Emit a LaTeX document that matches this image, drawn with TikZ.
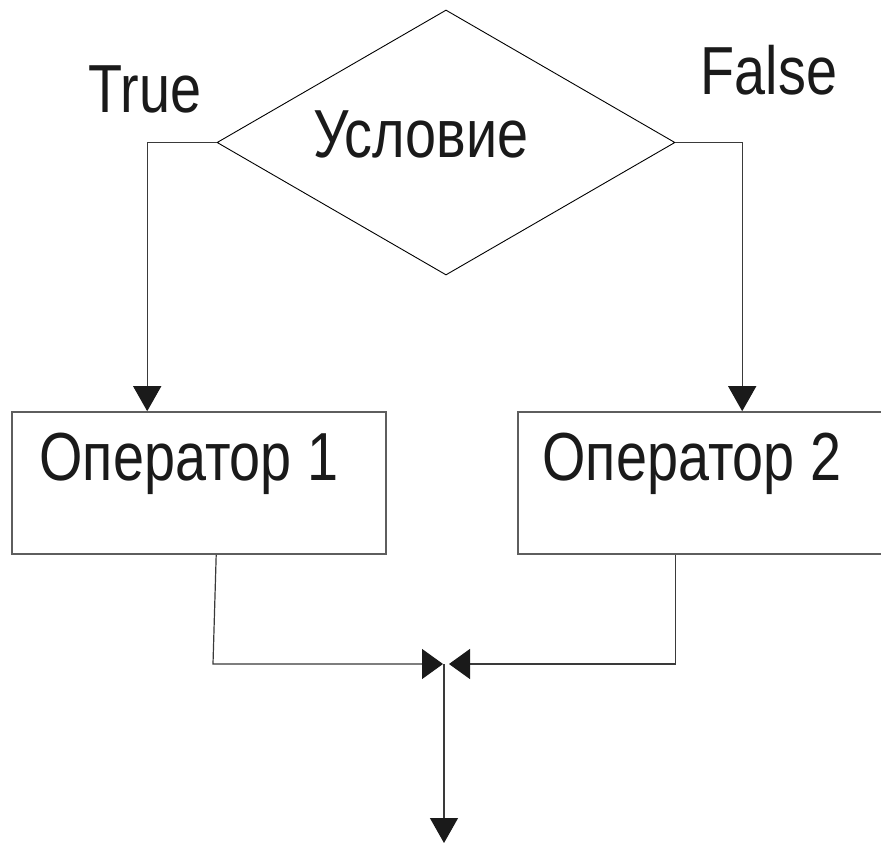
\documentclass[tikz,border=0pt]{standalone}
\usepackage{fontspec}
\newfontfamily\lab[FakeStretch=0.82]{Liberation Sans}
\usetikzlibrary{shapes.geometric,arrows.meta,calc}
\definecolor{ln}{HTML}{3A3A3A}
\definecolor{bx}{HTML}{5E5E5E}
\definecolor{tx}{HTML}{1A1A1A}
\tikzset{
  txt/.style={font=\lab\fontsize{68}{70}\selectfont, text=tx, inner sep=0pt, anchor=base},
  opbox/.style={draw=bx, line width=1.6pt, rectangle, minimum height=142pt, inner sep=0pt},
  conn/.style={draw=ln, line width=1.2pt},
  arr/.style={conn, -{Triangle[length=25pt,width=28pt,color=tx]}},
  marr/.style={conn, -{Triangle[length=21pt,width=30pt,color=tx]}},
}
\begin{document}
\begin{tikzpicture}[x=1pt,y=-1pt]
\path[use as bounding box, clip] (0,0) rectangle (881,845);
\fill[white] (0,0) rectangle (881,845);
% decision
\node[draw=black, line width=0.9pt, diamond, minimum width=458pt, minimum height=265pt, inner sep=0pt] (cond) at (446,142.5) {};
\node[txt] (condt) at (421,158) {Условие};
\node[txt] (tl) at (145,113) {True};
\node[txt] (fl) at (769,95) {False};
% operators
\node[opbox, minimum width=374pt] (b1) at (199,483) {};
\node[opbox, minimum width=382pt] (b2) at (709,483) {};
\node[txt] (b1t) at (189,480) {Оператор 1};
\node[txt] (b2t) at (692,480) {Оператор 2};
% coordinates
\coordinate (m) at (443,664);
\coordinate (mr) at (449,664);
\coordinate (out) at (444,843);
% connectors
\draw[arr] (cond.west) -| ([xshift=136pt]b1.north west);
\draw[arr] (cond.east) -| ([xshift=225pt]b2.north west);
\draw[marr] ([xshift=205pt]b1.south west) -- (213,664) -- (m);
\draw[marr] ([xshift=158pt]b2.south west) |- (mr);
\draw[arr] ([xshift=1pt]m) -- (out);
\end{tikzpicture}
\end{document}
